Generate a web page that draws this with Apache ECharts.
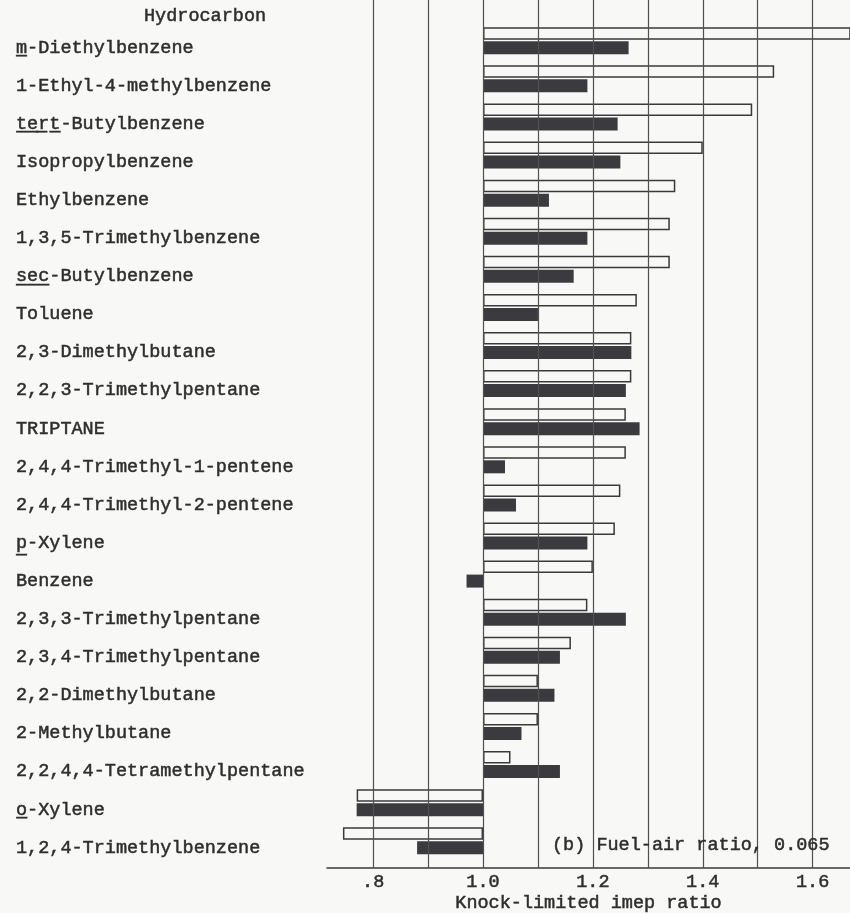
<!DOCTYPE html>
<html>
<head>
<meta charset="utf-8">
<script src="https://cdn.jsdelivr.net/npm/echarts@6/dist/echarts.min.js"></script>
<style>
  html, body { margin: 0; padding: 0; background: #f8f8f6; }
  #chart { width: 850px; height: 913px; }
</style>
</head>
<body>
<div id="chart"></div>
<script>
// Hydrocarbons, top to bottom
const hydrocarbons = [
  'm-Diethylbenzene',
  '1-Ethyl-4-methylbenzene',
  'tert-Butylbenzene',
  'Isopropylbenzene',
  'Ethylbenzene',
  '1,3,5-Trimethylbenzene',
  'sec-Butylbenzene',
  'Toluene',
  '2,3-Dimethylbutane',
  '2,2,3-Trimethylpentane',
  'TRIPTANE',
  '2,4,4-Trimethyl-1-pentene',
  '2,4,4-Trimethyl-2-pentene',
  'p-Xylene',
  'Benzene',
  '2,3,3-Trimethylpentane',
  '2,3,4-Trimethylpentane',
  '2,2-Dimethylbutane',
  '2-Methylbutane',
  '2,2,4,4-Tetramethylpentane',
  'o-Xylene',
  '1,2,4-Trimethylbenzene'
];

// Knock-limited imep ratio: open bars (upper of each pair)
const openRatio = [
  1.70, 1.53, 1.49, 1.40, 1.35, 1.34, 1.34, 1.28, 1.27, 1.27, 1.26,
  1.26, 1.25, 1.24, 1.20, 1.19, 1.16, 1.10, 1.10, 1.05, 0.77, 0.745
];

// Knock-limited imep ratio: solid bars (lower of each pair)
const solidRatio = [
  1.265, 1.19, 1.245, 1.25, 1.12, 1.19, 1.165, 1.10, 1.27, 1.26, 1.285,
  1.04, 1.06, 1.19, 0.97, 1.26, 1.14, 1.13, 1.07, 1.14, 0.77, 0.88
];

// Axis labels and vertical rules (ratio units)
const tickLabels = [0.8, 1.0, 1.2, 1.4, 1.6];
const ruleValues = [0.8, 0.9, 1.0, 1.1, 1.2, 1.3, 1.4, 1.5, 1.6];

// Bars grow out of ratio 1.0, so values are plotted as offsets from it
const BASE = 1.0;
const axisMin = 0.716 - BASE;
const axisMax = 1.668 - BASE;

const FONT = '"Liberation Mono", "DejaVu Sans Mono", monospace';
const INK = '#2e2e2e';

// Typewriter-weight text: regular face with a thin outline of the same ink
const typed = {
  fontFamily: FONT,
  fontSize: 18.5,
  fontWeight: 'normal',
  color: INK,
  textBorderColor: INK,
  textBorderWidth: 0.5
};

function fmtRatio(v) {
  const s = (v + BASE).toFixed(1);
  return s.startsWith('0') ? s.slice(1) : s;
}

// Underline chemical prefixes such as m-, o-, p-, sec-, tert-
function underlinePrefix(name) {
  const m = name.match(/^(m|o|p|sec|tert)-/);
  if (!m) return name;
  const pre = m[1].split('').map(c => c + '\u0332').join('');
  return pre + name.slice(m[1].length);
}

const chart = echarts.init(document.getElementById('chart'), null, { renderer: 'canvas' });

chart.setOption({
  animation: false,
  backgroundColor: '#f8f8f6',
  title: [
    {
      text: 'Hydrocarbon',
      left: 139, top: 2,
      textStyle: typed
    },
    {
      text: '(b) Fuel-air ratio, 0.065',
      left: 547, top: 831,
      textStyle: typed
    }
  ],
  grid: [
    { left: 327, right: 0, top: 0, bottom: 45, outerBoundsMode: 'none' },
    { left: 327, right: 0, top: 21.7, bottom: 53.2, outerBoundsMode: 'none' }
  ],
  xAxis: [
    {
      gridIndex: 0,
      type: 'value',
      min: axisMin, max: axisMax,
      axisLine: { show: true, lineStyle: { color: '#3a3a3a', width: 1.6 } },
      axisTick: { show: false },
      splitLine: { show: false },
      axisLabel: Object.assign({
        customValues: tickLabels.map(v => v - BASE),
        formatter: fmtRatio,
        margin: 5
      }, typed),
      name: 'Knock-limited imep ratio',
      nameLocation: 'middle',
      nameGap: 26,
      nameMoveOverlap: false,
      nameTextStyle: typed
    },
    {
      gridIndex: 1,
      type: 'value',
      min: axisMin, max: axisMax,
      show: false
    }
  ],
  yAxis: [
    { gridIndex: 0, type: 'value', min: 0, max: 1, show: false },
    {
      gridIndex: 1,
      type: 'category',
      data: hydrocarbons,
      inverse: true,
      axisLine: { show: false },
      axisTick: { show: false },
      splitLine: { show: false },
      axisLabel: Object.assign({
        align: 'left',
        verticalAlign: 'top',
        lineHeight: 14,
        margin: 311,
        formatter: underlinePrefix
      }, typed)
    }
  ],
  series: [
    {
      name: 'rules',
      type: 'line',
      xAxisIndex: 0, yAxisIndex: 0,
      data: [],
      silent: true,
      markLine: {
        silent: true,
        symbol: ['none', 'none'],
        label: { show: false },
        lineStyle: { color: '#505050', width: 1.2, type: 'solid' },
        emphasis: { disabled: true },
        data: ruleValues.map(v => ({ xAxis: v - BASE }))
      }
    },
    {
      name: 'open',
      type: 'bar',
      xAxisIndex: 1, yAxisIndex: 1,
      data: openRatio.map(v => v - BASE),
      barWidth: 12.5,
      itemStyle: { color: 'rgba(255,255,255,0)', borderColor: '#3a3a3a', borderWidth: 1.5 }
    },
    {
      name: 'solid',
      type: 'bar',
      xAxisIndex: 1, yAxisIndex: 1,
      data: solidRatio.map(v => v - BASE),
      barWidth: 13,
      barGap: '12%',
      itemStyle: { color: '#3b3a3f' }
    }
  ]
});
</script>
</body>
</html>
